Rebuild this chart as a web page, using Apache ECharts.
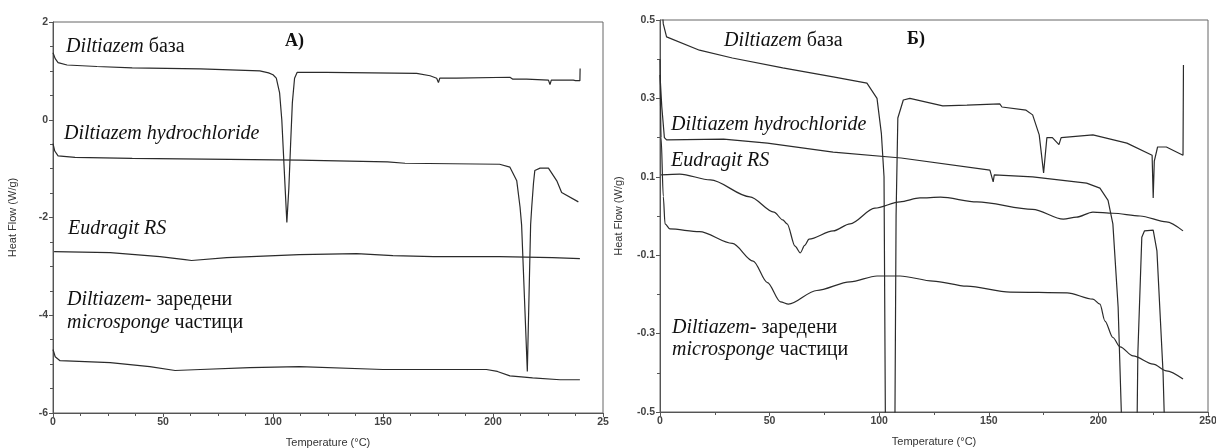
<!DOCTYPE html>
<html>
<head>
<meta charset="utf-8">
<script src="https://cdn.jsdelivr.net/npm/echarts@6/dist/echarts.min.js"></script>
<style>
  html, body { margin: 0; padding: 0; background: #fff; }
  #chart { width: 1216px; height: 448px; }
</style>
</head>
<body>
<div id="chart"></div>
<script>
// DSC thermograms: temperature (°C) vs heat flow (W/g)

// Panel A
const baseA = [[0,1.37],[1,1.25],[2.3,1.17],[6.4,1.12],[20,1.09],[36,1.06],[67,1.04],[94,1.0],[98,0.96],[100,0.92],[101.5,0.85],[103,0.55],[104,0.0],[105.3,-1.2],[106.3,-2.1],[107.2,-1.4],[108,-0.5],[108.8,0.35],[109.8,0.85],[111,0.97],[124.4,0.97],[165.3,0.95],[171.4,0.90],[174.4,0.85],[175.2,0.76],[175.8,0.85],[182,0.85],[182.7,0.88],[183.3,0.85],[207.7,0.87],[209,0.83],[215.3,0.83],[225.2,0.81],[225.9,0.72],[226.5,0.81],[236.5,0.81],[237.5,0.80],[239.5,0.80],[239.6,1.05]];
const hclA = [[0,-0.49],[0.8,-0.64],[2.3,-0.74],[10,-0.77],[36,-0.79],[80,-0.81],[112,-0.825],[152,-0.86],[160,-0.89],[203,-0.91],[207.7,-0.97],[210.8,-1.25],[212.3,-1.79],[213,-2.15],[215.6,-5.15],[217.1,-2.15],[217.6,-1.79],[218.4,-1.3],[219,-1.04],[221.4,-0.99],[225.2,-0.99],[229,-1.25],[231.2,-1.49],[238.8,-1.68]];
const eudA = [[0.5,-2.70],[26,-2.72],[48.6,-2.80],[60,-2.86],[63,-2.88],[79,-2.82],[112,-2.76],[138,-2.74],[154.5,-2.78],[173,-2.80],[203,-2.80],[227,-2.82],[239.5,-2.84]];
const spongeA = [[0,-4.70],[1,-4.85],[3.2,-4.93],[26,-4.97],[44,-5.05],[55.5,-5.13],[67,-5.11],[89.5,-5.07],[112,-5.05],[150,-5.11],[197,-5.11],[202,-5.15],[207.7,-5.24],[218,-5.28],[230.5,-5.32],[239.5,-5.32]];

// Panel Б
const baseB = [[0.5,0.56],[1.5,0.49],[3,0.457],[18,0.423],[33,0.403],[56,0.378],[79,0.355],[94.4,0.339],[99,0.30],[101,0.21],[102.2,0.1],[103,-0.7],[105,-0.9],[107,-0.7],[107.7,0.0],[108.5,0.25],[111,0.296],[114,0.30],[129,0.281],[140,0.283],[155,0.286],[156,0.278],[167,0.27],[170,0.258],[173,0.207],[175,0.11],[176.5,0.2],[179,0.20],[182,0.182],[183,0.20],[197.5,0.207],[213,0.186],[224.5,0.155],[225,0.046],[225.5,0.14],[227,0.176],[231,0.176],[238.6,0.155],[238.8,0.385]];
const hclB = [[0,0.36],[0.8,0.28],[2,0.20],[3,0.194],[29,0.196],[49,0.186],[79,0.163],[110,0.148],[150.5,0.117],[152,0.087],[152.5,0.105],[170,0.10],[194.6,0.084],[200.7,0.071],[204.4,0.04],[206.6,-0.02],[209,-0.232],[211,-0.6],[214,-0.8],[217.5,-0.6],[218,-0.35],[219.8,-0.054],[221,-0.038],[225,-0.036],[226.7,-0.089],[229.5,-0.40],[230.5,-0.6]];
const eudB = [[0.5,0.105],[9,0.107],[23,0.092],[41,0.049],[52,0.01],[56,-0.01],[58,-0.02],[61.6,-0.077],[64,-0.094],[66,-0.075],[68,-0.059],[79,-0.038],[86.7,-0.02],[98,0.02],[109.5,0.036],[118.6,0.046],[128,0.048],[144.6,0.036],[170,0.017],[184,-0.008],[190,-0.003],[197.5,0.01],[206.6,0.007],[219,0.0],[231,-0.015],[238.6,-0.038]];
const spongeB = [[0,0.40],[0.5,0.2],[1.5,0.05],[2.3,-0.02],[4.5,-0.033],[18,-0.04],[33,-0.07],[42.5,-0.115],[49,-0.17],[55,-0.219],[58.6,-0.225],[71.5,-0.19],[86.7,-0.168],[99,-0.153],[109.5,-0.153],[124.6,-0.166],[140,-0.179],[159.7,-0.194],[185.7,-0.196],[197.5,-0.212],[200.7,-0.225],[203,-0.268],[206.6,-0.31],[209.9,-0.334],[215.8,-0.357],[225,-0.378],[231,-0.395],[238.6,-0.416]];

// Tick labels
const xTicksA = ['0','50','100','150','200','25'];
const xTicksB = ['0','50','100','150','200','250'];

const chart = echarts.init(document.getElementById('chart'), null, { renderer: 'canvas' });

const lineColor = '#2b2b2b';
const axisColor = '#555';
const tickFont = { fontFamily: 'Liberation Sans', fontSize: 10.5, fontWeight: 'bold', color: '#444' };
const nameFont = { fontFamily: 'Liberation Sans', fontSize: 11, color: '#333' };

function xAxisFor(gridIndex, ticks, minorSplit) {
  return {
    type: 'value', gridIndex, min: 0, max: 250, interval: 50,
    name: 'Temperature (°C)', nameLocation: 'middle', nameGap: 24, nameTextStyle: nameFont,
    axisLine: { show: true, onZero: false, lineStyle: { color: axisColor, width: 1 } },
    axisTick: { show: true, length: 4, lineStyle: { color: axisColor } },
    minorTick: { show: true, splitNumber: minorSplit, length: 3, lineStyle: { color: axisColor } },
    splitLine: { show: false },
    axisLabel: Object.assign({ margin: 4, formatter: v => ticks[Math.round(v / 50)] }, tickFont)
  };
}

function yAxisFor(gridIndex, min, max, interval, minorSplit, fmt, gap) {
  return {
    type: 'value', gridIndex, min, max, interval,
    name: 'Heat Flow (W/g)', nameLocation: 'middle', nameGap: gap, nameRotate: 90, nameTextStyle: nameFont,
    axisLine: { show: true, onZero: false, lineStyle: { color: axisColor, width: 1 } },
    axisTick: { show: true, length: 4, lineStyle: { color: axisColor } },
    minorTick: { show: true, splitNumber: minorSplit, length: 3, lineStyle: { color: axisColor } },
    splitLine: { show: false },
    axisLabel: Object.assign({ margin: 5, formatter: fmt }, tickFont)
  };
}

function curve(data, xi, smooth) {
  return {
    type: 'line', xAxisIndex: xi, yAxisIndex: xi, data,
    showSymbol: false, smooth: smooth ? 0.3 : false, smoothMonotone: 'x',
    lineStyle: { color: lineColor, width: 1.2 }, clip: true, silent: true
  };
}

const serif = '"Liberation Serif", "DejaVu Serif", serif';
const rich = {
  i: { fontFamily: serif, fontStyle: 'italic', fontSize: 20, fill: '#111' },
  r: { fontFamily: serif, fontSize: 20, fill: '#111' }
};
function label(x, y, text) {
  return { type: 'text', x, y, silent: true,
    style: { text, rich, fontFamily: serif, fontSize: 20, fill: '#111', textVerticalAlign: 'middle' } };
}

chart.setOption({
  animation: false,
  backgroundColor: '#fff',
  grid: [
    { left: 53, top: 22, width: 550, height: 391, outerBoundsMode: 'none', show: true, borderColor: '#666', borderWidth: 1, backgroundColor: 'transparent' },
    { left: 660, top: 20, width: 548, height: 392, outerBoundsMode: 'none', show: true, borderColor: '#666', borderWidth: 1, backgroundColor: 'transparent' }
  ],
  xAxis: [ xAxisFor(0, xTicksA, 4), xAxisFor(1, xTicksB, 2) ],
  yAxis: [
    yAxisFor(0, -6, 2, 2, 4, v => String(Math.round(v)), 35),
    yAxisFor(1, -0.5, 0.5, 0.2, 2, v => (Math.round(v * 10) / 10).toFixed(1), 36)
  ],
  series: [
    curve(baseA, 0), curve(hclA, 0), curve(eudA, 0), curve(spongeA, 0),
    curve(baseB, 1), curve(hclB, 1), curve(eudB, 1, true), curve(spongeB, 1, true)
  ],
  graphic: [
    label(66, 47, '{i|Diltiazem} {r|база}'),
    label(64, 134, '{i|Diltiazem hydrochloride}'),
    label(68, 229, '{i|Eudragit RS}'),
    label(67, 300, '{i|Diltiazem-} {r|заредени}'),
    label(67, 323, '{i|microsponge} {r|частици}'),
    { type: 'text', x: 285, y: 41, silent: true,
      style: { text: 'A)', fontFamily: serif, fontSize: 18, fontWeight: 'bold', fill: '#111', textVerticalAlign: 'middle' } },
    label(724, 41, '{i|Diltiazem} {r|база}'),
    label(671, 125, '{i|Diltiazem hydrochloride}'),
    label(671, 161, '{i|Eudragit RS}'),
    label(672, 328, '{i|Diltiazem-} {r|заредени}'),
    label(672, 350, '{i|microsponge} {r|частици}'),
    { type: 'text', x: 907, y: 39, silent: true,
      style: { text: 'Б)', fontFamily: serif, fontSize: 18, fontWeight: 'bold', fill: '#111', textVerticalAlign: 'middle' } }
  ]
});
</script>
</body>
</html>
